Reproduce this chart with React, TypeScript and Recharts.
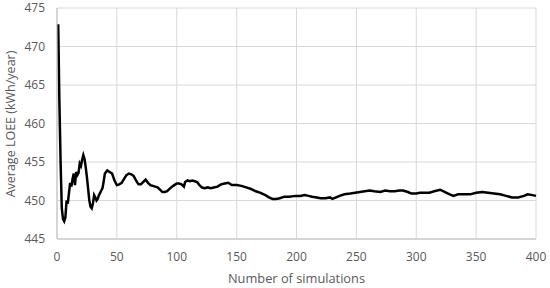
import React from "react";
import {
  LineChart,
  Line,
  XAxis,
  YAxis,
  CartesianGrid,
  Label,
} from "recharts";

// number of simulations and the running average LOEE
const simulations = [
  1, 2, 3, 4, 5, 6, 7, 8, 9, 10, 11, 12, 13, 14, 15, 16, 17, 18, 19, 20,
  21, 22, 23, 24, 25, 26, 27, 28, 29, 30, 31, 32, 33, 34, 35, 36, 37, 38, 39, 40,
  42, 44, 46, 48, 50, 52, 54, 56, 58, 60, 62, 64, 66, 68, 70, 72, 74, 76, 78, 80,
  82, 84, 86, 88, 90, 92, 94, 96, 98, 100, 102, 104, 106, 107, 109, 111, 113, 115, 117, 119,
  121, 123, 126, 128, 131, 134, 137, 140, 143, 146, 150, 154, 158, 162, 166, 170, 174, 177, 180, 183,
  186, 190, 194, 199, 203, 207, 210, 213, 217, 220, 224, 228, 230, 233, 236, 240, 245, 249, 253, 257,
  261, 265, 270, 274, 278, 282, 286, 289, 293, 296, 300, 303, 307, 311, 315, 320, 324, 328, 331, 335,
  340, 345, 350, 355, 360, 365, 370, 375, 380, 385, 390, 393, 397, 400,
];

const averageLoee = [
  472.9, 462.8, 455, 449, 447.6, 447.3, 447.8, 450, 449.6, 451, 452.3, 451.8, 452.8, 453.5, 452, 453.7, 453.3, 453.6, 454.8, 454.5,
  455.3, 455.9, 455.4, 454.3, 453, 451.5, 450, 449.2, 449, 449.6, 450.7, 450.4, 450, 450.2, 450.7, 451, 451.3, 451.6, 452.5, 453.5,
  453.9, 453.7, 453.5, 452.6, 452, 452.1, 452.3, 452.8, 453.3, 453.5, 453.4, 453.2, 452.6, 452.1, 452.1, 452.4, 452.7, 452.3, 452, 451.9,
  451.8, 451.7, 451.4, 451.1, 451.1, 451.2, 451.5, 451.8, 452, 452.2, 452.2, 452.1, 451.8, 452.4, 452.6, 452.5, 452.6, 452.5, 452.4, 452,
  451.7, 451.6, 451.7, 451.6, 451.7, 451.8, 452.1, 452.2, 452.3, 452, 452, 451.9, 451.7, 451.5, 451.2, 451, 450.7, 450.4, 450.2, 450.2,
  450.3, 450.5, 450.5, 450.6, 450.6, 450.7, 450.6, 450.5, 450.4, 450.3, 450.3, 450.4, 450.2, 450.4, 450.6, 450.8, 450.9, 451, 451.1, 451.2,
  451.3, 451.2, 451.1, 451.3, 451.2, 451.2, 451.3, 451.3, 451.1, 450.9, 450.9, 451, 451, 451, 451.2, 451.4, 451.1, 450.8, 450.6, 450.8,
  450.8, 450.8, 451, 451.1, 451, 450.9, 450.8, 450.6, 450.4, 450.4, 450.6, 450.8, 450.7, 450.6,
];

const xTicks = [0, 50, 100, 150, 200, 250, 300, 350, 400];
const yTicks = [445, 450, 455, 460, 465, 470, 475];

const data = simulations.map((n, i) => ({ n, loee: averageLoee[i] }));

const tickStyle = { fill: "#595959", fontSize: 12, fontFamily: "Open Sans" };

const YTitle = () => (
  <text
    x={15}
    y={124}
    transform="rotate(-90 15 124)"
    textAnchor="middle"
    fill="#595959"
    fontSize={12.5}
    fontFamily="Open Sans"
  >
    Average LOEE (kWh/year)
  </text>
);

const App: React.FC = () => (
  <div style={{ width: 550, height: 288 }}>
    <style>{"body{margin:0}"}</style>
    <LineChart
      width={550}
      height={288}
      data={data}
      margin={{ top: 8, right: 14, bottom: 0, left: 0 }}
    >
      <CartesianGrid stroke="#d9d9d9" strokeWidth={1} />
      <XAxis
        dataKey="n"
        type="number"
        domain={[0, 400]}
        ticks={xTicks}
        height={49}
        tickSize={0}
        tickMargin={13}
        stroke="#bfbfbf"
        tick={tickStyle}
      >
        <Label
          value="Number of simulations"
          position="insideBottom"
          offset={5}
          style={{ fill: "#595959", fontSize: 12.8, fontFamily: "Open Sans" }}
        />
      </XAxis>
      <YAxis
        type="number"
        domain={[445, 475]}
        ticks={yTicks}
        width={57}
        tickSize={0}
        tickMargin={12}
        stroke="#bfbfbf"
        tick={tickStyle}
      >
        <Label content={<YTitle />} />
      </YAxis>
      <Line
        type="linear"
        dataKey="loee"
        stroke="#000000"
        strokeWidth={2.5}
        dot={false}
        isAnimationActive={false}
      />
    </LineChart>
  </div>
);

export default App;
